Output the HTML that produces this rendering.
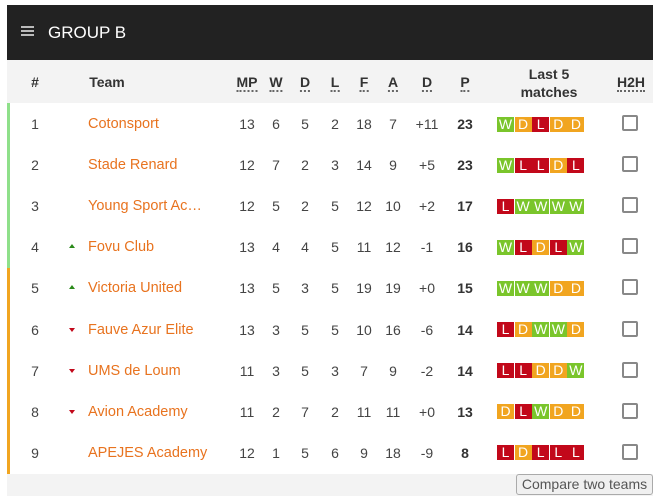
<!DOCTYPE html>
<html><head><meta charset="utf-8"><style>
*{margin:0;padding:0;box-sizing:border-box}
body{width:655px;height:502px;background:#fff;font-family:"Liberation Sans",Arial,sans-serif;position:relative;overflow:hidden}
.a{position:absolute}
#hdr{left:7px;top:5px;width:646px;height:55px;background:#222;color:#fff;font-size:17px}
#th{left:7px;top:60px;width:646px;height:43px;background:#f3f3f3}
.h{position:absolute;font-weight:bold;font-size:14px;color:#333;transform:translateX(-50%);white-space:nowrap}
.u{border-bottom:2px dotted #666;line-height:15px}
.c{position:absolute;font-size:14px;color:#444;transform:translate(-50%,-50%)}
.t{position:absolute;font-size:14.5px;color:#e8731f;transform:translateY(-50%);white-space:nowrap}
.b{position:absolute;width:17px;height:15px;color:#fff;font-size:14px;text-align:center;line-height:15px}
.W{background:#7ac52b}.D{background:#f1a520}.L{background:#c2081a}
.cb{position:absolute;width:16px;height:16px;border:2px solid #888;border-radius:2px;background:#fff}
</style></head><body>
<div id="hdr" class="a">
 <div class="a" style="left:14px;top:21px;width:13px">
  <div style="height:2px;background:#bbb;margin-bottom:2px"></div><div style="height:2px;background:#bbb;margin-bottom:2px"></div><div style="height:2px;background:#bbb"></div></div>
 <div class="a" style="left:41px;top:18px">GROUP B</div>
</div>
<div id="th" class="a"></div>
<div class="a" style="left:7px;top:474px;width:646px;height:22px;background:#f3f3f3"></div>
<div class="a" style="left:516px;top:474px;width:137px;height:21px;border:1px solid #aaa;border-radius:3px;background:#f0f0f0;font-size:14px;color:#555;text-align:center;line-height:19px">Compare two teams</div>
<div class="a" style="left:7px;top:103px;width:3px;height:165px;background:#8fe08a"></div>
<div class="a" style="left:7px;top:268px;width:3px;height:206px;background:#f1a520"></div>
<div id="root"></div>
<script>
var H=[["#",35,0],["Team",107,0],["MP",247,1],["W",276,1],["D",305,1],["L",335,1],["F",364,1],["A",393,1],["D",427,1],["P",465,1],["H2H",631,1]];
var s="";
H.forEach(function(h){s+='<div class="h" style="left:'+h[1]+'px;top:74px"><span class="'+(h[2]?'u':'')+'">'+h[0]+'</span></div>'});
s+='<div class="h" style="left:549px;top:65px;text-align:center;line-height:18px">Last 5<br>matches</div>';
var R=[["Cotonsport","",13,6,5,2,18,7,"+11",23,"WDLDD"],["Stade Renard","",12,7,2,3,14,9,"+5",23,"WLLDL"],["Young Sport Ac…","",12,5,2,5,12,10,"+2",17,"LWWWW"],["Fovu Club","u",13,4,4,5,11,12,"-1",16,"WLDLW"],["Victoria United","u",13,5,3,5,19,19,"+0",15,"WWWDD"],["Fauve Azur Elite","d",13,3,5,5,10,16,"-6",14,"LDWWD"],["UMS de Loum","d",11,3,5,3,7,9,"-2",14,"LLDDW"],["Avion Academy","d",11,2,7,2,11,11,"+0",13,"DLWDD"],["APEJES Academy","",12,1,5,6,9,18,"-9",8,"LDLLL"]];
var X=[247,276,305,335,364,393,427];
R.forEach(function(r,i){var y=124+i*41.1;
s+='<div class="c" style="left:35px;top:'+y+'px">'+(i+1)+'</div>';
if(r[1]=="u")s+='<div class="a" style="left:69px;top:'+(y-3)+'px;border-left:3.5px solid transparent;border-right:3.5px solid transparent;border-bottom:4px solid #2a8a1a"></div>';
if(r[1]=="d")s+='<div class="a" style="left:69px;top:'+(y-2)+'px;border-left:3.5px solid transparent;border-right:3.5px solid transparent;border-top:4px solid #c2081a"></div>';
s+='<div class="t" style="left:88px;top:'+y+'px">'+r[0]+'</div>';
for(var k=0;k<7;k++)s+='<div class="c" style="left:'+X[k]+'px;top:'+y+'px">'+r[k+2]+'</div>';
s+='<div class="c" style="left:465px;top:'+y+'px;font-weight:bold;color:#333">'+r[9]+'</div>';
for(var k=0;k<5;k++){var c=r[10][k];s+='<div class="b '+c+'" style="left:'+(497+k*17.6)+'px;top:'+(y-7.5)+'px">'+c+'</div>';}
s+='<div class="cb" style="left:622px;top:'+(y-9)+'px"></div>';
});
document.getElementById("root").innerHTML=s;
</script>
</body></html>
